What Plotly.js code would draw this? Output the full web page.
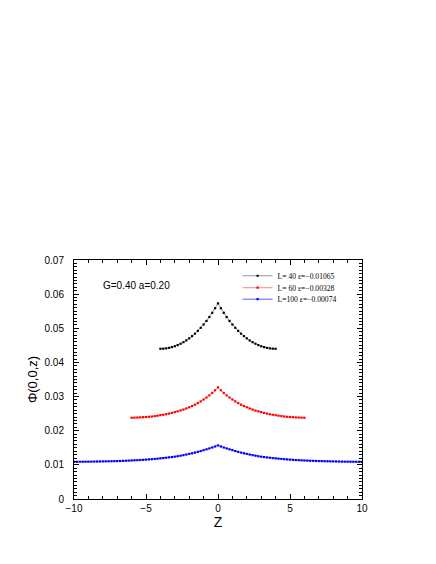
<!DOCTYPE html>
<html>
<head>
<meta charset="utf-8">
<script src="https://cdn.plot.ly/plotly-3.0.1.min.js"></script>
<style>
  body { margin: 0; background: #fff; }
  #plot { width: 436px; height: 564px; }
</style>
</head>
<body>
<div id="plot"></div>
<script>
// profiles Phi(0,0,z), step 0.2 in z, from -L/10 to +L/10
let phi_40 = [
  0.04400, 0.04403, 0.04412, 0.04427, 0.04448, 0.04474, 0.04507, 0.04547, 0.04593, 0.04645,
  0.04704, 0.04770, 0.04843, 0.04925, 0.05014, 0.05110, 0.05215, 0.05330, 0.05453, 0.05587,
  0.05730,
  0.05587, 0.05453, 0.05330, 0.05215, 0.05110, 0.05014, 0.04925, 0.04843, 0.04770, 0.04704,
  0.04645, 0.04593, 0.04547, 0.04507, 0.04474, 0.04448, 0.04427, 0.04412, 0.04403, 0.04400
];
let phi_60 = [
  0.02380, 0.02382, 0.02386, 0.02390, 0.02396, 0.02402, 0.02408, 0.02416, 0.02426, 0.02439,
  0.02456, 0.02468, 0.02483, 0.02501, 0.02521, 0.02545, 0.02567, 0.02591, 0.02619, 0.02651,
  0.02687, 0.02723, 0.02763, 0.02808, 0.02858, 0.02914, 0.02972, 0.03035, 0.03105, 0.03184,
  0.03270,
  0.03184, 0.03105, 0.03035, 0.02972, 0.02914, 0.02858, 0.02808, 0.02763, 0.02723, 0.02687,
  0.02651, 0.02619, 0.02591, 0.02567, 0.02545, 0.02521, 0.02501, 0.02483, 0.02468, 0.02456,
  0.02439, 0.02426, 0.02416, 0.02408, 0.02402, 0.02396, 0.02390, 0.02386, 0.02382, 0.02380
];
let phi_100 = [
  0.01090, 0.01090, 0.01091, 0.01091, 0.01092, 0.01093, 0.01094, 0.01096, 0.01097, 0.01099,
  0.01100, 0.01102, 0.01103, 0.01106, 0.01108, 0.01111, 0.01114, 0.01117, 0.01120, 0.01124,
  0.01128, 0.01132, 0.01137, 0.01141, 0.01147, 0.01153, 0.01159, 0.01166, 0.01173, 0.01181,
  0.01190, 0.01198, 0.01208, 0.01218, 0.01228, 0.01240, 0.01253, 0.01268, 0.01284, 0.01301,
  0.01320, 0.01339, 0.01359, 0.01381, 0.01404, 0.01430, 0.01454, 0.01480, 0.01508, 0.01538,
  0.01570,
  0.01538, 0.01508, 0.01480, 0.01454, 0.01430, 0.01404, 0.01381, 0.01359, 0.01339, 0.01320,
  0.01301, 0.01284, 0.01268, 0.01253, 0.01240, 0.01228, 0.01218, 0.01208, 0.01198, 0.01190,
  0.01181, 0.01173, 0.01166, 0.01159, 0.01153, 0.01147, 0.01141, 0.01137, 0.01132, 0.01128,
  0.01124, 0.01120, 0.01117, 0.01114, 0.01111, 0.01108, 0.01106, 0.01103, 0.01102, 0.01100,
  0.01099, 0.01097, 0.01096, 0.01094, 0.01093, 0.01092, 0.01091, 0.01091, 0.01090, 0.01090
];
let names = ["L= 40 \u03b5=\u22120.01065", "L= 60 \u03b5=\u22120.00328", "L=100 \u03b5=\u22120.00074"];
let dz = 0.2;

function zgrid(n) {
    let z = [];
    let half = (n - 1) / 2;
    for (let i = 0; i < n; i++) z.push(Math.round((i - half) * dz * 100) / 100);
    return z;
}

let series = [
    {y: phi_40, mc: "#000000", lc: "#7a7a7a"},
    {y: phi_60, mc: "#ff0000", lc: "#ff6060"},
    {y: phi_100, mc: "#0000ff", lc: "#3030ff"}
];
let legendIds = ["legend", "legend2", "legend3"];

let traces = series.map(function (s, k) {
    return {
        type: "scatter",
        mode: "lines+markers",
        name: names[k],
        legend: legendIds[k],
        x: zgrid(s.y.length),
        y: s.y,
        line: {color: s.lc, width: 0.8},
        marker: {color: s.mc, size: 2.2, symbol: "square", line: {width: 0}}
    };
});

let sans = "Liberation Sans, Arial, sans-serif";
let serif = "Liberation Serif, Times New Roman, serif";
let ax = {
    showline: true, mirror: "ticks", linecolor: "#000", linewidth: 1,
    ticks: "inside", ticklen: 5, tickcolor: "#000",
    showgrid: false, zeroline: false,
    tickfont: {family: sans, size: 10, color: "#000"}
};

function legendAt(y) {
    return {
        x: 0.568, y: y, xanchor: "left", yanchor: "middle",
        bgcolor: "rgba(0,0,0,0)", borderwidth: 0,
        font: {family: serif, size: 7.6, color: "#000"},
        itemwidth: 30
    };
}

let layout = {
    width: 436, height: 564,
    margin: {l: 74, r: 74, t: 260, b: 65},
    paper_bgcolor: "#fff", plot_bgcolor: "#fff",
    showlegend: true,
    legend: legendAt(0.934),
    legend2: legendAt(0.884),
    legend3: legendAt(0.836),
    xaxis: Object.assign({}, ax, {
        range: [-10, 10], dtick: 5, tick0: 0,
        minor: {dtick: 1, ticks: "inside", ticklen: 3, tickcolor: "#000"},
        title: {text: "Z", font: {family: sans, size: 14, color: "#000"}, standoff: 0}
    }),
    yaxis: Object.assign({}, ax, {
        range: [0, 0.07], dtick: 0.01, tick0: 0,
        ticklabelstandoff: 7,
        minor: {dtick: 0.001, ticks: "inside", ticklen: 3, tickcolor: "#000"},
        title: {text: "\u03a6(0,0,z)", font: {family: sans, size: 13, color: "#000"}, standoff: 3}
    }),
    annotations: [{
        xref: "paper", yref: "paper", x: 0.093, y: 0.895, xanchor: "left", yanchor: "middle",
        text: "G=0.40 a=0.20", showarrow: false,
        font: {family: sans, size: 10, color: "#000"}
    }]
};

Plotly.newPlot("plot", traces, layout, {staticPlot: true});
</script>
</body>
</html>
